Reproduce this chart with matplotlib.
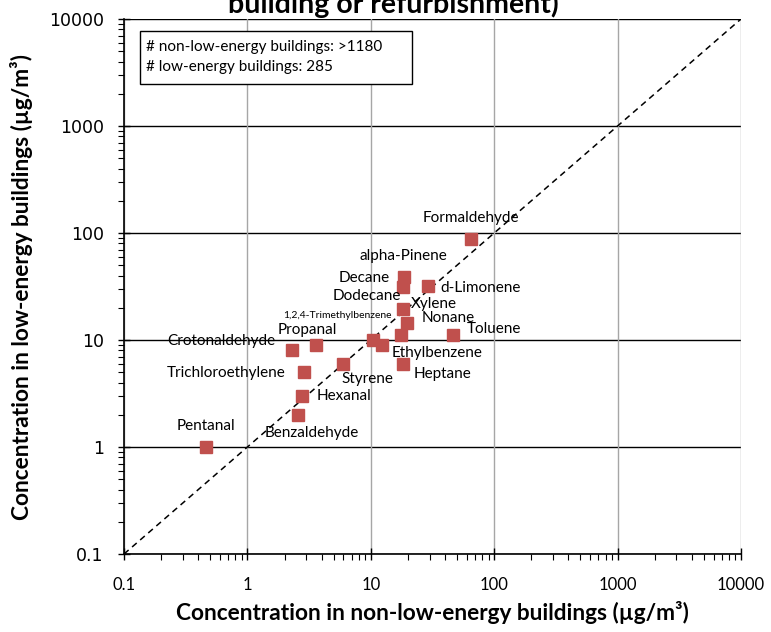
import matplotlib
matplotlib.use("Agg")
import matplotlib.pyplot as plt
from matplotlib.patches import Rectangle
from matplotlib.ticker import LogLocator, FixedLocator, NullFormatter

compounds = ["Formaldehyde", "alpha-Pinene", "Decane", "Dodecane", "d-Limonene",
             "Xylene", "Nonane", "1,2,4-Trimethylbenzene", "Toluene", "Ethylbenzene",
             "Propanal", "Crotonaldehyde", "Heptane", "Styrene", "Trichloroethylene",
             "Hexanal", "Benzaldehyde", "Pentanal"]
non_low_energy = [64.5, 18.5, 18.2, 17.5, 29.0, 18.2, 19.6, 10.4, 46.4, 12.3,
                  3.63, 2.28, 18.2, 5.97, 2.87, 2.75, 2.58, 0.458]
low_energy = [87.0, 38.4, 31.6, 11.2, 32.3, 19.5, 14.3, 10.1, 11.1, 9.06,
              9.0, 8.0, 6.0, 6.0, 5.0, 3.0, 2.0, 1.0]
tick_values = [0.1, 1, 10, 100, 1000, 10000]
tick_labels = ["0.1", "1", "10", "100", "1000", "10000"]

# label offsets in pixels (dx, dy up) -- styling only
label_offsets = [(0, 21), (0, 21), (-39, 9), (-34, 39), (53, -2),
                 (31, 4.5), (41, 5), (-35, 24), (41, 6), (55, -8),
                 (-9, 15), (-70, 9), (40, -10), (24, -15), (-78, -1),
                 (42, 0), (14, -18), (0, 21)]

FONT = "Lato"
fig = plt.figure(figsize=(7.71, 6.32), dpi=100)
ax = fig.add_axes([124/771, 1-554/632, (741-124)/771, (554-19)/632])
ax.set_xscale("log")
ax.set_yscale("log")
ax.set_xlim(0.1, 10000)
ax.set_ylim(0.1, 10000)

ax.xaxis.set_major_locator(FixedLocator(tick_values))
ax.yaxis.set_major_locator(FixedLocator(tick_values))
ax.xaxis.set_minor_locator(LogLocator(base=10, subs=range(2, 10)))
ax.yaxis.set_minor_locator(LogLocator(base=10, subs=range(2, 10)))
ax.xaxis.set_minor_formatter(NullFormatter())
ax.yaxis.set_minor_formatter(NullFormatter())
ax.set_xticklabels(tick_labels, fontfamily=FONT, fontsize=12)
ax.set_yticklabels(tick_labels, fontfamily="DejaVu Sans", fontsize=12.5)

ax.tick_params(axis="both", which="major", direction="inout", length=9, width=1, color="black")
ax.tick_params(axis="both", which="minor", direction="out", length=4, width=0.8, color="black")
ax.tick_params(axis="x", which="major", pad=12)
ax.tick_params(axis="y", which="major", pad=10)

for yv in tick_values:
    ax.axhline(yv, color="black", lw=1.0, zorder=1)
for xv in tick_values:
    ax.axvline(xv, color="#a6a6a6", lw=1.0, zorder=1)

ax.spines["top"].set_visible(False)
ax.spines["right"].set_visible(False)
ax.spines["left"].set_linewidth(1.2)
ax.spines["bottom"].set_linewidth(1.2)

ax.plot([0.1, 10000], [0.1, 10000], color="black", lw=1.1, ls=(0, (4, 3)), zorder=2)

ax.plot(non_low_energy, low_energy, ls="none", marker="s", markersize=8,
        color="#C0504D", markeredgecolor="#C0504D", zorder=3, clip_on=False)

for name, x, y, (dx, dy) in zip(compounds, non_low_energy, low_energy, label_offsets):
    fs = 7.5 if name.startswith("1,2,4") else 11
    ax.annotate(name, (x, y), xytext=(dx*0.72, dy*0.72), textcoords="offset points",
                ha="center", va="center", fontsize=fs, fontfamily=FONT, zorder=4)

box = Rectangle((0.026, 0.8785), 0.441, 0.099, transform=ax.transAxes,
                facecolor="white", edgecolor="black", lw=1.0, zorder=5)
ax.add_patch(box)
ax.text(0.036, 0.9477, "# non-low-energy buildings: >1180", transform=ax.transAxes,
        fontsize=11, fontfamily=FONT, va="center", ha="left", zorder=6)
ax.text(0.036, 0.9103, "# low-energy buildings: 285", transform=ax.transAxes,
        fontsize=11, fontfamily=FONT, va="center", ha="left", zorder=6)

ax.set_xlabel("Concentration in non-low-energy buildings (µg/m³)", fontfamily=FONT,
              fontsize=16.3, fontweight="bold", labelpad=6)
ax.set_ylabel("Concentration in low-energy buildings (µg/m³)", fontfamily=FONT,
              fontsize=16.3, fontweight="bold")
ax.yaxis.set_label_coords(-0.147, 0.5)

fig.text(393/771, 1-13/632, "building or refurbishment)", ha="center", va="baseline",
         fontsize=20.5, fontweight="bold", fontfamily=FONT)

fig.savefig("out.png", dpi=100)
